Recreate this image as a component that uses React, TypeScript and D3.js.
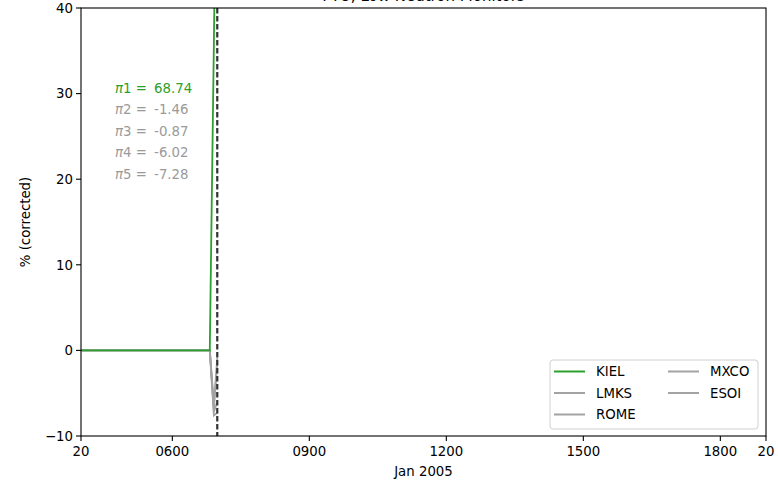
import React from "react";
import * as d3 from "d3";

const title = "FTU, Low Neutron Monitors";
const hours = [4.0, 6.82, 6.91, 6.984];
const kiel = [0, 0, 36, 68.74];
const lmks = [0, 0, -6.8, -1.46];
const rome = [0, 0, -6.3, -0.87];
const mxco = [0, 0, -7.2, -6.02];
const esoi = [0, 0, -7.6, -7.28];
const seriesNames = ["KIEL", "LMKS", "ROME", "MXCO", "ESOI"];
const piLabels = ["π1", "π2", "π3", "π4", "π5"];
const piValues = ["68.74", "-1.46", "-0.87", "-6.02", "-7.28"];
const eventHour = 6.984;
const xTickHours = [4, 6, 9, 12, 15, 18, 19];
const xTickLabels = ["20", "0600", "0900", "1200", "1500", "1800", "20"];
const yTicks = [-10, 0, 10, 20, 30, 40];

const GREEN = "#2ca02c";
const GRAY = "#a3a3a3";
const GRAYTXT = "#9a9a9a";
const FONT = "DejaVu Sans, sans-serif";
const FS = 13.3;

export default function App() {
  const W = 778, H = 481;
  const L = 81, R = 766, T = 8, B = 436;
  const x = d3.scaleLinear().domain([4, 19]).range([L, R]);
  const y = d3.scaleLinear().domain([-10, 40]).range([B, T]);
  const line = d3
    .line<[number, number]>()
    .x((d) => x(d[0]))
    .y((d) => y(d[1]));
  const mk = (vals: number[]) => hours.map((h, i) => [h, vals[i]] as [number, number]);
  const grays = [lmks, rome, mxco, esoi];

  const legendCols = [
    [{ n: seriesNames[0], c: GREEN }, { n: seriesNames[1], c: GRAY }, { n: seriesNames[2], c: GRAY }],
    [{ n: seriesNames[3], c: GRAY }, { n: seriesNames[4], c: GRAY }],
  ];
  const colX = [554, 668];
  const rowY = [371.5, 393, 414.5];

  return (
    <svg
      width={W}
      height={H}
      style={{ position: "absolute", left: 0, top: 0, background: "#fff" }}
      fontFamily={FONT}
    >
      <defs>
        <clipPath id="clip">
          <rect x={L} y={T} width={R - L} height={B - T} />
        </clipPath>
      </defs>
      <text x={(L + R) / 2} y={1} textAnchor="middle" fontSize={15} fill="#000">
        {title}
      </text>

      <g clipPath="url(#clip)">
        {grays.map((s, i) => (
          <path key={i} d={line(mk(s)) || ""} fill="none" stroke={GRAY} strokeWidth={1.8} />
        ))}
        <path d={line(mk(kiel)) || ""} fill="none" stroke={GREEN} strokeWidth={1.8} />
        <line
          x1={x(eventHour)}
          x2={x(eventHour)}
          y1={T}
          y2={B}
          stroke="#333"
          strokeWidth={2.2}
          strokeDasharray="5.6,2.4"
        />
      </g>

      {/* spines */}
      <rect x={L} y={T} width={R - L} height={B - T} fill="none" stroke="#000" strokeWidth={1.1} />

      {/* y ticks */}
      {yTicks.map((t) => (
        <g key={t}>
          <line x1={L - 5} x2={L} y1={y(t)} y2={y(t)} stroke="#000" strokeWidth={1.1} />
          <text x={L - 8} y={y(t)} dy="0.36em" textAnchor="end" fontSize={FS}>
            {t < 0 ? "\u2212" + Math.abs(t) : t}
          </text>
        </g>
      ))}
      {/* x ticks */}
      {xTickHours.map((h, i) => (
        <g key={i}>
          <line x1={x(h)} x2={x(h)} y1={B} y2={B + 5} stroke="#000" strokeWidth={1.1} />
          <text x={x(h)} y={B + 20} textAnchor="middle" fontSize={FS}>
            {xTickLabels[i]}
          </text>
        </g>
      ))}
      <text x={(L + R) / 2} y={476} textAnchor="middle" fontSize={FS}>
        Jan 2005
      </text>
      <text
        transform={`translate(30,${(T + B) / 2}) rotate(-90)`}
        textAnchor="middle"
        fontSize={FS}
      >
        % (corrected)
      </text>

      {/* pi labels */}
      {piLabels.map((p, i) => (
        <text
          key={i}
          x={115}
          y={88 + i * 21.5}
          dy="0.36em"
          fontSize={FS}
          fill={i === 0 ? GREEN : GRAYTXT}
        >
          <tspan fontStyle="italic">{p.slice(0, 1)}</tspan>
          <tspan>{p.slice(1)}</tspan>
          <tspan>{" = "}</tspan>
          <tspan dx={3}>{piValues[i]}</tspan>
        </text>
      ))}

      {/* legend */}
      <rect x={550} y={360} width={208} height={69} rx={3} fill="#fff" fillOpacity={0.8} stroke="#d0d0d0" strokeWidth={1} />
      {legendCols.map((col, ci) =>
        col.map((e, ri) => (
          <g key={ci + "-" + ri}>
            <line x1={colX[ci]} x2={colX[ci] + 31} y1={rowY[ri]} y2={rowY[ri]} stroke={e.c} strokeWidth={2} />
            <text x={colX[ci] + 42} y={rowY[ri]} dy="0.36em" fontSize={FS}>
              {e.n}
            </text>
          </g>
        ))
      )}
    </svg>
  );
}
